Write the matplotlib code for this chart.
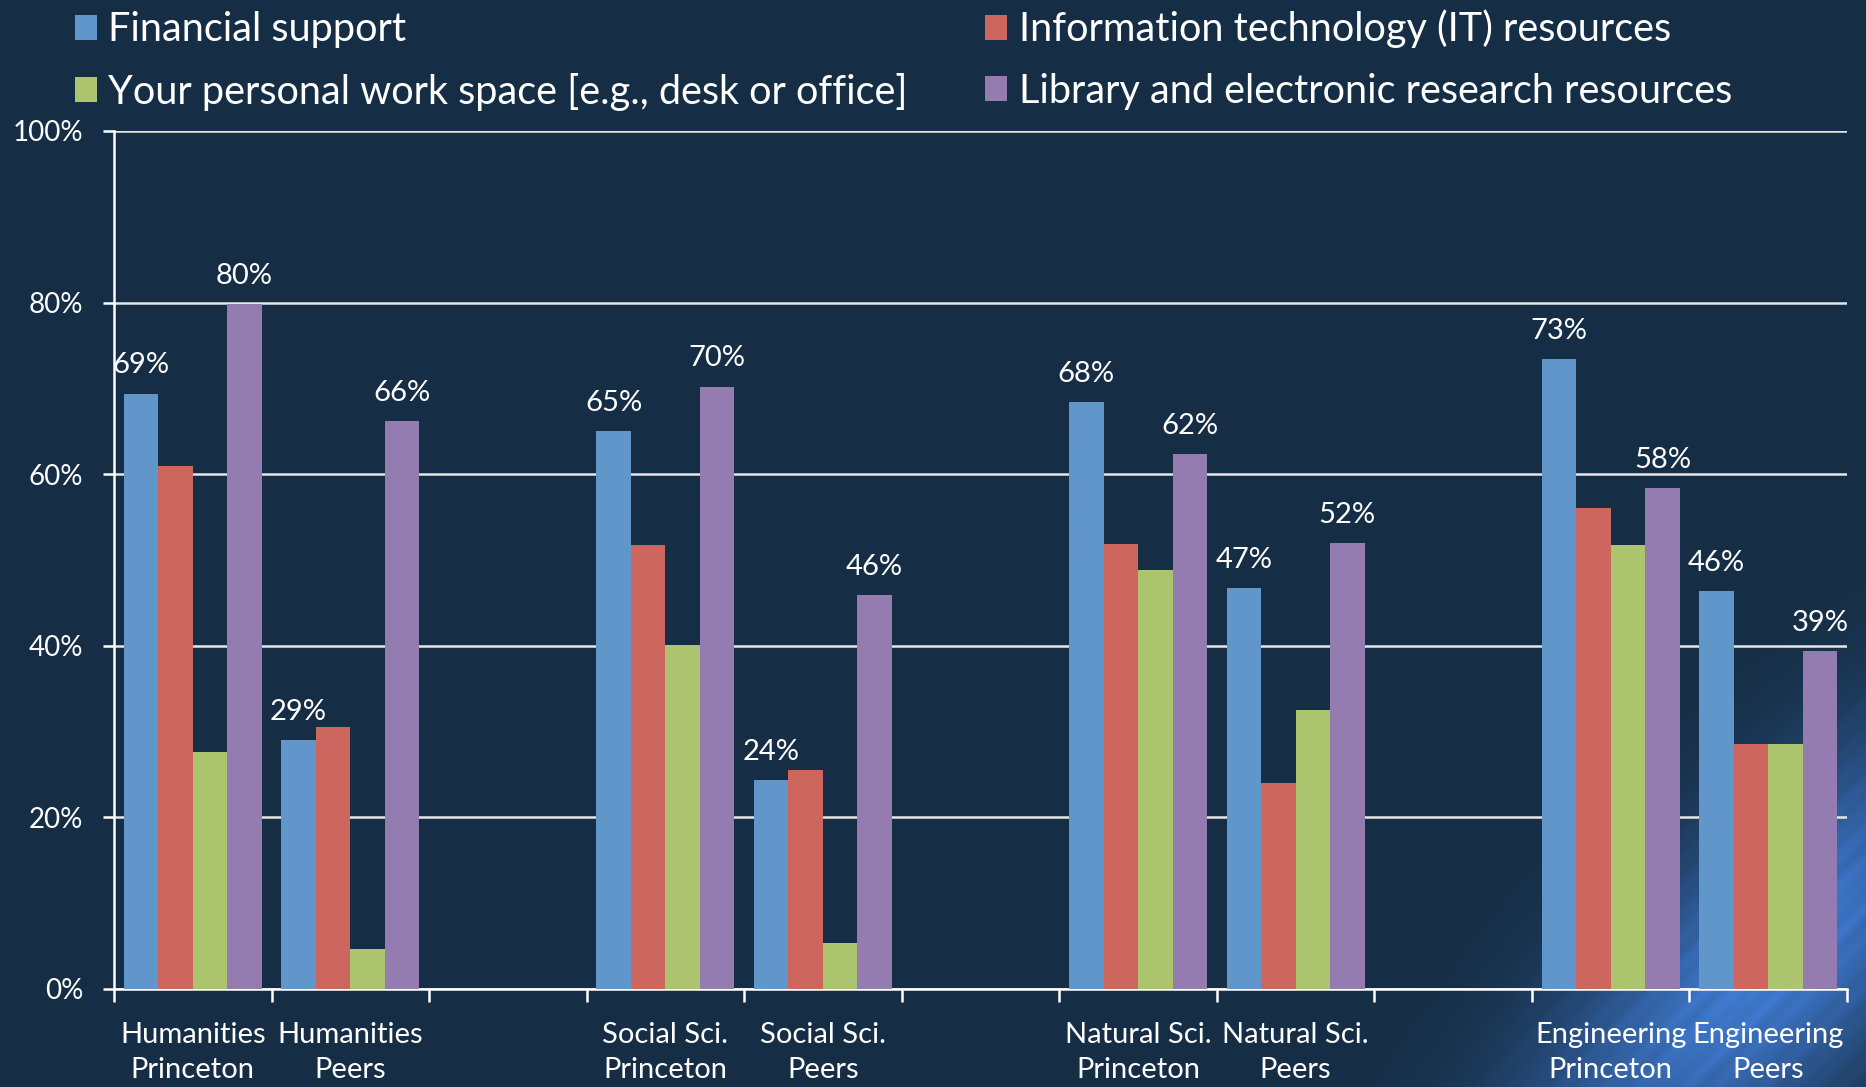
import matplotlib.pyplot as plt
import numpy as np

plt.rcParams['font.family'] = ['Lato', 'DejaVu Sans']

# categories (8 bar groups, with a gap between disciplines)
categories = ['Humanities\nPrinceton', 'Humanities\nPeers',
              'Social Sci.\nPrinceton', 'Social Sci.\nPeers',
              'Natural Sci.\nPrinceton', 'Natural Sci.\nPeers',
              'Engineering\nPrinceton', 'Engineering\nPeers']
slots = [0, 1, 3, 4, 6, 7, 9, 10]

series_names = ['Financial support',
                'Information technology (IT) resources',
                'Your personal work space [e.g., desk or office]',
                'Library and electronic research resources']
financial = [69.4, 29.0, 65.0, 24.3, 68.4, 46.7, 73.4, 46.4]
it_res = [61.0, 30.5, 51.7, 25.5, 51.9, 24.0, 56.0, 28.6]
workspace = [27.6, 4.7, 40.1, 5.3, 48.8, 32.5, 51.7, 28.6]
library = [79.8, 66.2, 70.2, 45.9, 62.3, 52.0, 58.4, 39.4]
colors = ['#6096ca', '#cc665f', '#acc46e', '#947bb0']

bg = '#162e45'
fig = plt.figure(figsize=(18.66, 10.87), dpi=100, facecolor=bg)

# background glow band in the bottom-right corner (pixel coords, y down)
glow_ax = fig.add_axes([0, 0, 1, 1], zorder=0)
glow_ax.axis('off')
xx, yy = np.meshgrid(np.arange(0, 1866, 2.0), np.arange(0, 1087, 2.0))
s = xx + yy      # across the band
t = xx - yy      # along the band
g = np.exp(-((s - 2735) / 175) ** 2 - ((t - 800) / 460) ** 2)
stripes = 0.93 + 0.07 * np.sin(s / 5.0) * np.sin(s / 23.0)
g = np.clip(g * stripes, 0, 1)
base = np.array([0x16, 0x2e, 0x45]) / 255
peak = np.array([0x42, 0x7e, 0xd8]) / 255
img = base[None, None, :] + (peak - base)[None, None, :] * g[..., None]
glow_ax.imshow(img, extent=[0, 1, 0, 1], aspect='auto', origin='upper')
glow_ax.set_xlim(0, 1)
glow_ax.set_ylim(0, 1)

ax = fig.add_axes([0.0611, 0.0902, 0.9287, 0.7893], zorder=1)
ax.set_facecolor('none')

w = 0.219
offsets = [-1.5 * w, -0.5 * w, 0.5 * w, 1.5 * w]
all_series = [financial, it_res, workspace, library]
x = np.array(slots, dtype=float)
bars = []
for vals, off, col, name in zip(all_series, offsets, colors, series_names):
    b = ax.bar(x + off, vals, width=w, color=col, label=name, zorder=3)
    bars.append(b)

# value labels on the first and last series
for vals, off in [(financial, offsets[0]), (library, offsets[3])]:
    for xi, v in zip(x, vals):
        ax.annotate(f'{v:.0f}%', (xi + off, v), xytext=(0, 11),
                    textcoords='offset points', ha='center', va='bottom',
                    color='white', fontsize=21)

ax.set_xlim(-0.5, 10.5)
ax.set_ylim(0, 100)
ax.set_yticks(np.arange(0, 101, 20))
ax.set_yticklabels([f'{t}%' for t in range(0, 101, 20)])
ax.yaxis.grid(True, color='#e6e6e6', linewidth=1.8, zorder=0)
ax.set_axisbelow(True)

ax.set_xticks(np.arange(-0.5, 11, 1))
ax.set_xticklabels([])
ax.set_xticks(slots, minor=True)
ax.set_xticklabels(categories, minor=True, linespacing=1.42)
ax.tick_params(axis='x', which='major', length=9, width=1.8, color='white', direction='out')
ax.tick_params(axis='x', which='minor', length=0, pad=24, labelsize=21, labelcolor='white')
ax.tick_params(axis='y', length=8, width=1.8, color='white', labelsize=20,
               labelcolor='white', pad=14)

for sp in ['top', 'right']:
    ax.spines[sp].set_visible(False)
for sp in ['left', 'bottom']:
    ax.spines[sp].set_color('white')
    ax.spines[sp].set_linewidth(1.8)

handles = [bars[0], bars[2], bars[1], bars[3]]
labels = [series_names[0], series_names[2], series_names[1], series_names[3]]
leg = fig.legend(handles, labels, loc='upper left', bbox_to_anchor=(0.021, 1.024),
                 ncol=2, frameon=False, fontsize=28.5, labelcolor='white',
                 handlelength=0.55, handleheight=0.6, handletextpad=0.3,
                 columnspacing=1.95, labelspacing=0.62)

fig.savefig('out.png', dpi=100, facecolor=bg)
